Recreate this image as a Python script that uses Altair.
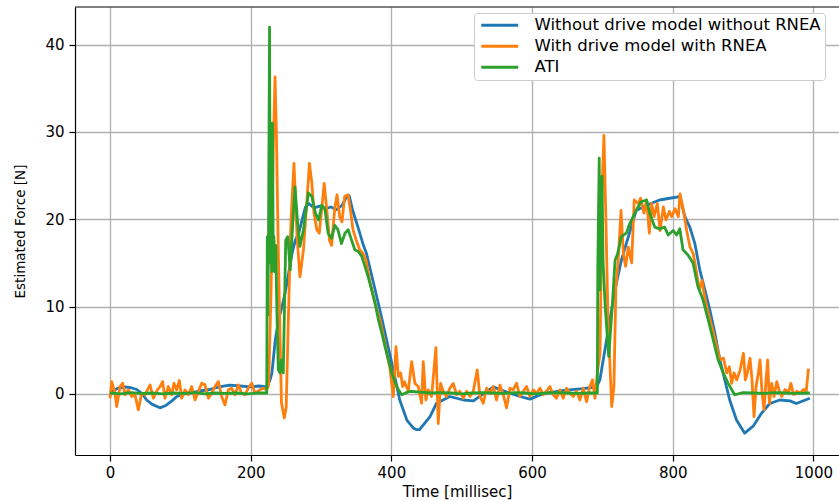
import altair as alt
import pandas as pd

SERIES = ["Without drive model without RNEA", "With drive model with RNEA", "ATI"]
COLORS = ["#1f77b4", "#ff7f0e", "#2ca02c"]
X_TICKS = [0, 200, 400, 600, 800, 1000]
Y_TICKS = [0, 10, 20, 30, 40]

blue_t = [0, 10, 21, 30, 38, 46, 52, 60, 71, 80, 88, 95, 105, 114, 125, 142, 155, 170, 185, 199, 212, 223,
          227.5, 230.2, 235, 239.7, 244.5, 249, 254, 258.8, 263.5, 268.3, 273, 277.8, 282.6, 290, 298, 306,
          314, 322, 330, 336.5, 340, 345, 352.5, 359.5, 364.5, 374.6, 383.7, 393.2, 402.8, 411.9, 422, 431,
          436, 440, 455, 464, 483, 502.5, 516.6, 530.7, 544.8, 564, 583, 597, 615, 644.5, 672.7, 691.8,
          696.4, 706, 713, 720, 727, 734, 741, 748, 762.8, 781.4, 795.5, 810, 817.3, 824.3, 831.5, 838.5,
          845.7, 852.8, 860, 867, 874, 881, 890.7, 902.3, 914.4, 926.4, 938, 952.3, 966.7, 975.8, 995]
blue_f = [0.1, 0.6, 0.8, 0.7, 0.5, 0.0, -0.7, -1.2, -1.6, -1.3, -0.8, -0.3, 0.0, 0.1, 0.3, 0.5, 0.8, 1.0, 0.9, 0.8, 0.9, 0.8,
          1.6, 2.4, 6.2, 8.5, 10, 11.6, 13.8, 16.1, 17.6, 18.4, 19.9, 21.4, 21.8, 21.3, 21.5, 21.2,
          21.4, 21.1, 21.6, 22.6, 22.7, 21.0, 19.1, 17.2, 16.1, 12.7, 9.6, 6.2, 2.7, -0.7, -3.0, -3.9,
          -4.1, -4.1, -2.6, -1.1, -0.3, -0.7, -0.8, 0.0, 0.8, 0.2, -0.3, -0.6, 0.0, 0.4, 0.6, 0.8,
          1.6, 6.2, 9.6, 12.7, 15.3, 17.2, 19.1, 21.0, 21.6, 22.2, 22.4, 22.6, 20.3, 19.1, 17.2, 14.2,
          11.9, 9.6, 6.9, 3.9, 1.6, -0.7, -3.0, -4.5, -3.7, -2.2, -1.1, -0.7, -0.8, -1.1, -0.5]

orange_t = [0, 2.4, 7.1, 9.5, 14.2, 18, 21.3, 26, 30.8, 35.5, 40.3, 45, 49.7, 56.9, 61.6, 67.3, 71.1, 74.8,
            78.1, 82.9, 87.6, 90.9, 94.8, 98.6, 101.9, 106.6, 111.4, 116.1, 120.8, 125.6, 130.3, 135, 139.8,
            144.5, 149.2, 154, 158.7, 163.4, 168.2, 172.9, 177.6, 182.4, 187.1, 191.8, 196.6, 201.4, 206.1,
            213.2, 217.9, 222.6,
            225.5, 229, 232, 234.6, 236.5, 239.3, 243.7, 247.7, 250.5, 253.5, 257.3, 261.5, 265.9, 270, 275,
            280, 283.5, 287, 290, 294, 297.5, 301, 304.5, 308, 312, 315, 319.5, 322.7, 326.5, 329.8, 333.6,
            338.3, 341.6, 345.4, 350, 355, 359.5, 364, 369, 376.6, 383.7, 390.7, 398, 402.7, 406.5, 409.9,
            413.2, 416, 418.6, 424, 428.8, 433.5, 438.2, 443, 445.3, 449, 452.5, 457.2, 463.3, 466.6, 470,
            473.7, 478.4, 483.2, 487.9, 492.7, 497.4, 502.2, 506.9, 511.7, 516.4, 522.1, 525.9, 530.6, 535.3,
            540, 544.8, 549.5, 554.4, 559.1, 563.8, 568.6, 573.3, 578, 582.7, 587.5, 592.2, 597, 601.7, 606.4,
            611.2, 615.9, 620.6, 625.3, 630.1, 634.8, 639.5, 644.3, 649.1, 653.8, 658.6, 663.3, 668, 672.8,
            677.5, 682.2, 686, 689.4, 692.8, 696.7, 699.6, 702.2, 705, 708, 713.3, 716.4, 719.2, 722.5, 726.5,
            729.9, 733, 736.9, 741.6, 745.3, 751, 754.3, 759.1, 763, 766.7, 770, 773.4, 778.1, 782, 786.7,
            790.4, 795.2, 798.6, 803.3, 808, 810.4, 815.2, 819.9, 824.6, 829.4, 834.1, 837.8, 841.7, 844.5,
            848.3, 853, 857.8, 862.5, 867.2, 872, 876.8, 880.5, 883.8, 887.2, 891, 895.7, 900.5, 903.3, 906.1,
            909.9, 912.7, 915.6, 918.5, 921.7, 924.1, 927, 929.8, 932.7, 935, 937.4, 940.7, 944, 947.9, 951.7,
            955, 959.8, 964.5, 968, 971.8, 976.5, 981.2, 986, 989.8, 993]
orange_f = [-0.5, 1.4, 0.1, -1.45, 0.84, 1.22, -0.11, 0.46, -0.3, -0.11, -1.83, 0.08, -0.11, 1.03, -0.5, 0.46, 0.84, 1.41,
            -0.5, 0.84, -0.11, 1.22, 0.46, 1.53, -0.5, 0.46, -0.11, 0.84, -0.69, 0.27, 1.22, 1.03, -0.5,
            0.08, 0.84, 1.41, -0.3, -1.26, 0.46, 0.65, -0.11, 1.03, 0.08, -0.11, 0.65, 1.22, 0.08,
            0.46, 0.65, 0.46,
            1.0, 12, 28, 36.3, 30, 16, -1.0, -2.75, -1.5, 8.5, 19.9, 26.4, 18, 13.4, 16.5,
            22.2, 26.4, 24.1, 20.7, 18.8, 18.4, 21.2, 24.1, 21.2, 17.6, 17.0, 21.2, 22.8, 20.3, 19.7, 22.6,
            22.8, 21.2, 18.8, 17.6, 16.5, 16.1, 15.3, 13.0, 10.4, 8.5, 5.8, 2.9, -0.3, 5.4, 2.0,
            2.4, 0.84, 1.4, 0.3, 3.7, 1.2, 0.84, -1.07, 3.7, -0.7, 0.46, -0.3, 5.3, -3.4, 1.2,
            0.3, -0.3, 0.65, 1.2, -0.1, 0.3, -0.5, 0.3, -0.3, 0.3, 2.75, -0.3, -1.07, 0.65,
            0.08, 0.84, -0.7, 1.0, -0.1, -1.6, 0.65, 0.46, 1.22, -0.3, 0.3, 0.84, -0.3, 0.46, 0.08,
            0.65, -0.1, 0.3, 0.84, -0.1, -0.5, 0.46, -0.5, 0.65, 0.08, -0.3, 0.3, -0.7, 0.65,
            -0.9, 0.84, 1.6, -0.5, 2.4, 4.65, 23.7, 29.6, 19.9, 8.5, -1.45, 0.84, 12.2, 15.3, 21,
            16, 14.6, 16.8, 15, 22.2, 21.8, 22.4, 20.7, 22.2, 18.4, 21.8, 20.3, 21.8, 18.7, 21.4,
            19.9, 20.9, 20.3, 21.2, 20.3, 22.9, 21.0, 18.7, 16.8, 16, 13.8, 11.9, 13.0, 11.5,
            10, 8.5, 7, 5.4, 3.9, 4.1, 2.4, 3.1, 1.2, 2.4, 1.6, 2.7, 4.65, 1.6, 2.4,
            4.1, 1.6, -2.6, 0.84, 2.4, 3.9, 0.08, -1.8, 1.6, 3.9, -1.07, 1.2, -0.3, 1.4, 0.3,
            -0.3, 0.5, 0.1, 1.2, -0.1, 0.3, 0.1, 0.5, 0.3, 2.9]

green_t = [0, 15, 30, 45, 60, 75, 90, 105, 120, 135, 150, 165, 180, 195, 210, 222.8,
           223.6, 224.4, 225.3, 226.8, 227.8, 229, 230, 231, 232, 233, 234, 235.5, 237.5, 239.3, 241.5,
           243.8, 246.3, 249.8, 252.6, 256.2, 259, 263, 266.8, 270, 275, 282, 287, 292, 296.6, 301, 305.5,
           310, 315, 319.5, 324, 329, 334, 338.6, 343.4, 348, 353, 357.6, 362.4, 367, 372, 376.8, 381.5,
           386.3, 391, 395.8, 400.5, 405.3, 410, 414.8, 419.5, 426.6, 440, 455, 470, 485, 500, 515, 530,
           545, 560, 575, 590, 605, 620, 635, 650, 665, 680, 692.8,
           693.5, 695.5, 696.5, 699.4, 701, 704, 709, 714, 718, 721.5, 727, 734, 739, 748, 755, 762.8,
           767.3, 774.4, 781.4, 788.5, 793.5, 800.6, 805.6, 810, 814.6, 821.7, 828.8, 835.8, 842.9, 850.4,
           857.5, 864.6, 871.7, 878.8, 888, 900, 915, 930, 945, 960, 975, 995]
green_f = [0.1, 0.0, 0.15, 0.05, 0.1, 0.0, 0.1, 0.05, 0.15, 0.0, 0.1, 0.05, 0.1, 0.0, 0.1, 0.1,
           18, 9, 18, 42, 15, 31, 14, 31, 16, 18, 14, 17, 8.5, 2.75, 2.4,
           3.9, 2.4, 17.6, 18, 14.2, 18.4, 23.7, 19.5, 16.9, 18.8, 23, 22.6, 20.7, 19.9, 21.6, 21.2,
           18.4, 17.8, 19.3, 18.8, 17.2, 18.4, 18.8, 17.6, 16.5, 16.3, 15.8, 14.6, 13.4, 11.9, 10.4, 8.5,
           7.0, 5.4, 3.9, 2.4, 1.3, 0.46, -0.1, 0.08, 0.3, 0.2, 0.1, 0.15, 0.1, 0.0, 0.1, 0.15,
           0.1, 0.05, 0.15, 0.1, 0.0, 0.1, 0.15, 0.1, 0.05, 0.1, 0.1,
           14.6, 27, 11.9, 24.9, 15, 10, 4.3, 10, 15.3, 16, 18, 18.4, 19.5, 21, 22, 22.2,
           20.7, 19.1, 18.9, 19.1, 18.2, 18.7, 18.2, 18.9, 16.5, 15.9, 15, 12.3, 10.8, 8.5,
           6.2, 3.9, 2.4, 1.2, -0.1, 0.15, 0.1, 0.05, 0.15, 0.1, 0.05, 0.1]

W, H = 764, 448

x_enc = alt.X("t:Q",
              scale=alt.Scale(domain=[-49.8, 1036.4], nice=False, zero=False),
              axis=alt.Axis(values=X_TICKS, format="d", title="Time [millisec]", titleFontSize=15,
                            titleY=41, titleBaseline="alphabetic", labelPadding=4))
y_enc = alt.Y("f:Q",
              scale=alt.Scale(domain=[-7.0, 44.3], nice=False, zero=False),
              axis=alt.Axis(values=Y_TICKS, format="d", title="Estimated Force [N]", titleFontSize=13.5,
                            titleX=-55, titleY=H / 2, titleAlign="center", titleBaseline="middle",
                            labelPadding=5))
color_enc = alt.Color("series:N",
                      scale=alt.Scale(domain=SERIES, range=COLORS),
                      legend=alt.Legend(title=None, orient="none", legendX=399, legendY=6,
                                        padding=4, fillColor="white", strokeColor="#cccccc",
                                        cornerRadius=3, labelFont="DejaVu Sans", labelFontSize=16.5,
                                        labelLimit=500,
                                        labelColor="black", symbolType="M-1,0H6.4", symbolSize=100,
                                        symbolStrokeWidth=2.8, labelOffset=40, rowPadding=4))


def series_chart(t, f, name):
    df = pd.DataFrame({"t": t, "f": f, "series": name})
    return alt.Chart(df).mark_line(strokeWidth=2.8, strokeJoin="round").encode(
        x=x_enc, y=y_enc, color=color_enc, order="t:Q")


top_rule = alt.Chart(pd.DataFrame({"a": [0]})).mark_rule(color="black", strokeWidth=1.2).encode(
    x=alt.value(0), x2=alt.value(W), y=alt.value(0))

chart = alt.layer(
    series_chart(blue_t, blue_f, SERIES[0]),
    series_chart(orange_t, orange_f, SERIES[1]),
    series_chart(green_t, green_f, SERIES[2]),
    top_rule,
).properties(
    width=W, height=H,
    padding={"left": 75, "top": 7, "right": 0, "bottom": 45},
    autosize=alt.AutoSizeParams(type="none"),
    background="white",
).configure_view(
    strokeWidth=0
).configure_axis(
    domainColor="black", domainWidth=1.2,
    tickColor="black", tickSize=6, tickWidth=1.2,
    gridColor="#b0b0b0", gridWidth=1.3,
    labelFont="DejaVu Sans", labelFontSize=15, labelColor="black",
    titleFont="DejaVu Sans", titleFontWeight="normal", titleColor="black",
)

chart.save("out.html", embed_options={"renderer": "svg", "actions": False})
